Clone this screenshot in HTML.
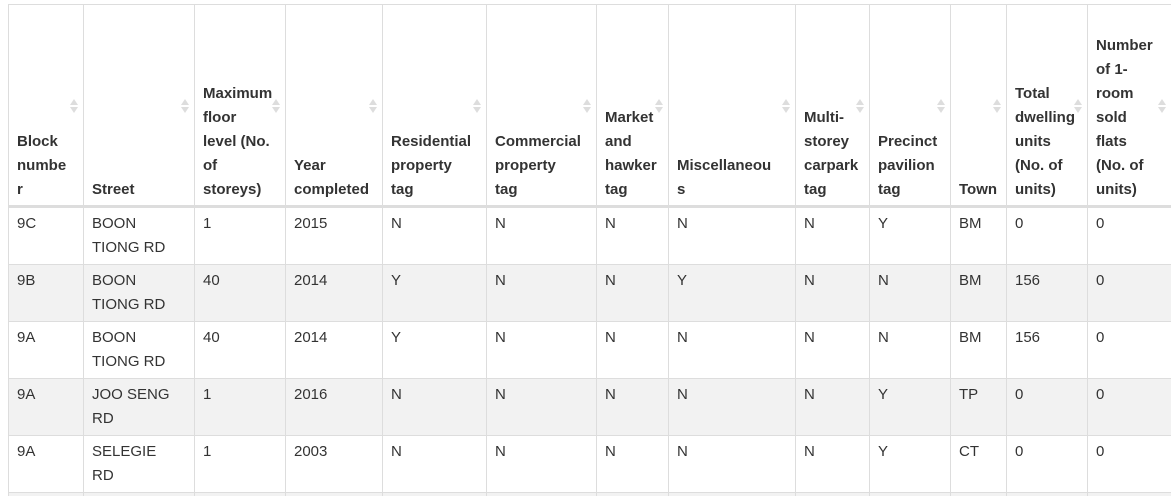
<!DOCTYPE html>
<html><head><meta charset="utf-8"><style>
html,body{margin:0;width:1171px;height:496px;overflow:hidden}
body{background:#fff;position:relative;font-family:"Liberation Sans",Arial,sans-serif;font-size:15px;color:#333}
#t{position:absolute;left:0;top:0;width:1171px;height:496px;overflow:hidden}
.c{position:absolute;box-sizing:border-box;border-left:1px solid #ddd;line-height:24px;padding-left:8px;white-space:nowrap;overflow:hidden}
.h{top:4px;height:202px;font-weight:bold;display:flex;flex-direction:column;justify-content:flex-end;padding-bottom:4px;border-top:1px solid #ddd}
.r{height:57px;padding-top:4px;border-top:1px solid #ddd}
.s{background:#f2f2f2}
.si{position:absolute;right:6px;top:93px;width:8px;height:16px}
.si:before,.si:after{content:"";position:absolute;left:0;border-left:4px solid transparent;border-right:4px solid transparent}
.si:before{top:1px;border-bottom:6px solid #ddd}
.si:after{top:9px;border-top:6px solid #ddd}
.hl{position:absolute;left:8px;width:1163px;height:2px;background:#ddd;top:205px}
</style></head><body>
<div id="t"></div>
<div class="hl"></div>
<script>
const edges=[8,83,194,285,382,486,596,668,795,869,950,1006,1087,1171];
const headers=["Block<br>numbe<br>r","Street","Maximum<br>floor<br>level (No.<br>of<br>storeys)","Year<br>completed","Residential<br>property<br>tag","Commercial<br>property<br>tag","Market<br>and<br>hawker<br>tag","Miscellaneou<br>s","Multi-<br>storey<br>carpark<br>tag","Precinct<br>pavilion<br>tag","Town","Total<br>dwelling<br>units<br>(No. of<br>units)","Number<br>of 1-<br>room<br>sold<br>flats<br>(No. of<br>units)"];
const hnames=["block-number","street","max-floor","year","residential","commercial","market","misc","carpark","pavilion","town","dwelling","one-room"];
const rows=[
["9C","BOON<br>TIONG RD","1","2015","N","N","N","N","N","Y","BM","0","0"],
["9B","BOON<br>TIONG RD","40","2014","Y","N","N","Y","N","N","BM","156","0"],
["9A","BOON<br>TIONG RD","40","2014","Y","N","N","N","N","N","BM","156","0"],
["9A","JOO SENG<br>RD","1","2016","N","N","N","N","N","Y","TP","0","0"],
["9A","SELEGIE<br>RD","1","2003","N","N","N","N","N","Y","CT","0","0"],
["","","","","","","","","","","","",""]];
const t=document.getElementById('t');
headers.forEach((h,i)=>{
 const d=document.createElement('div');
 
 
 d.className='c h';
 d.style.left=edges[i]+'px';d.style.width=(edges[i+1]-edges[i]+1)+'px';
 d.innerHTML='<div>'+h+'</div><span class="si"></span>';
 t.appendChild(d);
});
rows.forEach((r,j)=>{
 r.forEach((v,i)=>{
  const d=document.createElement('div');
  
  
  d.className='c r'+(j%2?' s':'');
  d.style.left=edges[i]+'px';d.style.width=(edges[i+1]-edges[i]+(i==edges.length-2?0:1))+'px';
  d.style.top=(207+57*j)+'px';
  if(j==rows.length-1)d.style.height=(496-(207+57*j))+'px';
  d.innerHTML=v;
  t.appendChild(d);
 });
});
</script>
</body></html>
